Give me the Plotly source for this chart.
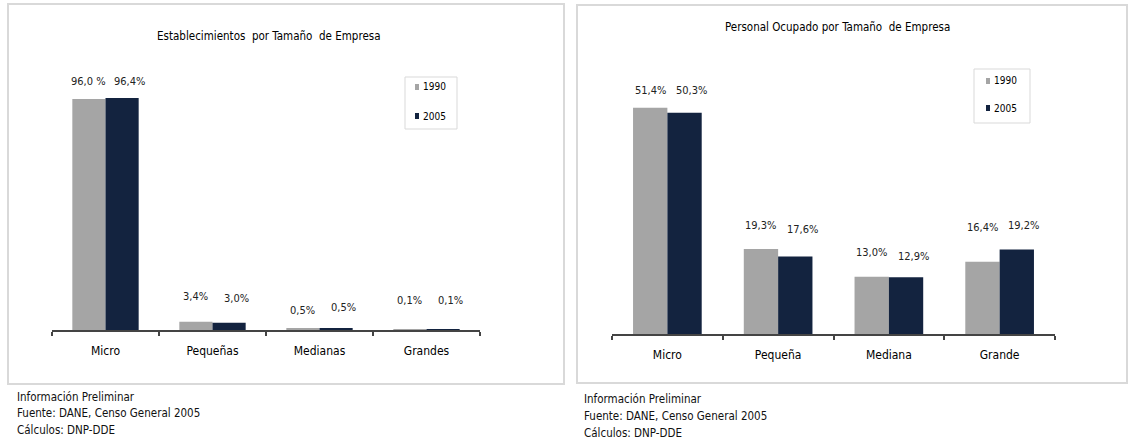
import plotly.graph_objects as go

# ---- data ----
years = ["1990", "2005"]

est_categories = ["Micro", "Pequeñas", "Medianas", "Grandes"]
est_1990 = [96.0, 3.4, 0.5, 0.1]
est_2005 = [96.4, 3.0, 0.5, 0.1]
est_labels_1990 = ["96,0 %", "3,4%", "0,5%", "0,1%"]
est_labels_2005 = ["96,4%", "3,0%", "0,5%", "0,1%"]

emp_categories = ["Micro", "Pequeña", "Mediana", "Grande"]
emp_1990 = [51.4, 19.3, 13.0, 16.4]
emp_2005 = [50.3, 17.6, 12.9, 19.2]
emp_labels_1990 = ["51,4%", "19,3%", "13,0%", "16,4%"]
emp_labels_2005 = ["50,3%", "17,6%", "12,9%", "19,2%"]

titles = ["Establecimientos  por Tamaño  de Empresa",
          "Personal Ocupado por Tamaño  de Empresa"]
notes = ["Información Preliminar", "Fuente: DANE, Censo General 2005", "Cálculos: DNP-DDE"]

# ---- style ----
W, H = 1128, 443
GRAY = "#a5a5a5"
NAVY = "#13233f"
FONT = "DejaVu Sans Condensed"
BARGAP = 0.38

# vertical lift (px) of each value label above its bar
lift_est = [[18, 25, 18, 29], [17, 24, 21, 29]]
lift_emp = [[17, 24, 24, 34], [22, 27, 21, 24]]
# horizontal nudge (px) of the labels of each series
label_nudge = [0, 7]


def px_x(x):
    return x / W


def px_y(y):
    return 1 - y / H


fig = go.Figure()

panels = [
    dict(cats=est_categories, v=[est_1990, est_2005], lab=[est_labels_1990, est_labels_2005],
         lift=lift_est, xa="x", ya="y", xdom=(52, 480), ydom=(330, 60), ymax=(330 - 60) / 2.406,
         box=(8, 4, 564, 384), title=(269, 36), legbox=(405, 77, 457, 129), legrows=(87, 116),
         legx=417, notes_x=15, notes_y=(397, 413, 430)),
    dict(cats=emp_categories, v=[emp_1990, emp_2005], lab=[emp_labels_1990, emp_labels_2005],
         lift=lift_emp, xa="x2", ya="y2", xdom=(612, 1055), ydom=(334, 60), ymax=(334 - 60) / 4.40,
         box=(577, 5, 1127, 383), title=(837, 27), legbox=(974, 69, 1030, 123), legrows=(81, 108),
         legx=988, notes_x=582, notes_y=(399, 416, 433)),
]

shapes = []
annotations = []
half = (1 - BARGAP) / 4  # offset of each bar centre from the category centre

for i, p in enumerate(panels):
    for k, (yr, col) in enumerate(zip(years, [GRAY, NAVY])):
        fig.add_trace(go.Bar(
            x=p["cats"], y=p["v"][k], name=yr, marker_color=col,
            marker_line_width=0, xaxis=p["xa"], yaxis=p["ya"], showlegend=False,
            hoverinfo="x+y",
        ))
        sign = -1 if k == 0 else 1
        for j, val in enumerate(p["v"][k]):
            annotations.append(dict(
                x=j + sign * half, y=val, xref=p["xa"], yref=p["ya"],
                text=p["lab"][k][j], showarrow=False, yshift=p["lift"][k][j],
                xshift=label_nudge[k],
                font=dict(family=FONT, size=11, color="#222222"),
                xanchor="center", yanchor="middle",
            ))

    # panel frame
    x0, y0, x1, y1 = p["box"]
    shapes.append(dict(type="rect", xref="paper", yref="paper",
                       x0=px_x(x0), x1=px_x(x1), y0=px_y(y1), y1=px_y(y0),
                       line=dict(color="#d9d9d9", width=2), layer="below"))
    # title
    annotations.append(dict(x=px_x(p["title"][0]), y=px_y(p["title"][1]), xref="paper", yref="paper",
                            text=titles[i], showarrow=False, xanchor="center", yanchor="middle",
                            font=dict(family=FONT, size=11.5, color="#000000")))
    # legend
    lx0, ly0, lx1, ly1 = p["legbox"]
    shapes.append(dict(type="rect", xref="paper", yref="paper",
                       x0=px_x(lx0), x1=px_x(lx1), y0=px_y(ly1), y1=px_y(ly0),
                       line=dict(color="#d9d9d9", width=1)))
    for yr, col, ry in zip(years, [GRAY, NAVY], p["legrows"]):
        shapes.append(dict(type="rect", xref="paper", yref="paper",
                           x0=px_x(p["legx"] - 2), x1=px_x(p["legx"] + 2),
                           y0=px_y(ry + 3), y1=px_y(ry - 3),
                           fillcolor=col, line=dict(width=0)))
        annotations.append(dict(x=px_x(p["legx"] + 4), y=px_y(ry), xref="paper", yref="paper",
                                text=yr, showarrow=False, xanchor="left", yanchor="middle",
                                font=dict(family=FONT, size=10, color="#000000")))
    # notes below the panel
    for t, ny in zip(notes, p["notes_y"]):
        annotations.append(dict(x=px_x(p["notes_x"]), y=px_y(ny), xref="paper", yref="paper",
                                text=t, showarrow=False, xanchor="left", yanchor="middle",
                                font=dict(family=FONT, size=11.5, color="#111111")))

common_x = dict(type="category", showgrid=False, zeroline=False, showline=True,
                linecolor="#444444", linewidth=1.5, ticks="outside", tickson="boundaries",
                ticklen=4, tickcolor="#444444", tickwidth=1.5,
                tickfont=dict(family=FONT, size=12, color="#000000"),
                ticklabelstandoff=9, fixedrange=True)
common_y = dict(showgrid=False, zeroline=False, showline=False, showticklabels=False,
                ticks="", fixedrange=True)

fig.update_layout(
    width=W, height=H, margin=dict(l=0, r=0, t=0, b=0),
    paper_bgcolor="white", plot_bgcolor="white",
    barmode="group", bargap=BARGAP, bargroupgap=0,
    showlegend=False,
    xaxis=dict(common_x, domain=[px_x(panels[0]["xdom"][0]), px_x(panels[0]["xdom"][1])],
               anchor="y", range=[-0.5, 3.5]),
    yaxis=dict(common_y, domain=[px_y(panels[0]["ydom"][0]), px_y(panels[0]["ydom"][1])],
               anchor="x", range=[0, panels[0]["ymax"]]),
    xaxis2=dict(common_x, domain=[px_x(panels[1]["xdom"][0]), px_x(panels[1]["xdom"][1])],
                anchor="y2", range=[-0.5, 3.5]),
    yaxis2=dict(common_y, domain=[px_y(panels[1]["ydom"][0]), px_y(panels[1]["ydom"][1])],
                anchor="x2", range=[0, panels[1]["ymax"]]),
    shapes=shapes,
    annotations=annotations,
)

fig.write_html("out.html")
